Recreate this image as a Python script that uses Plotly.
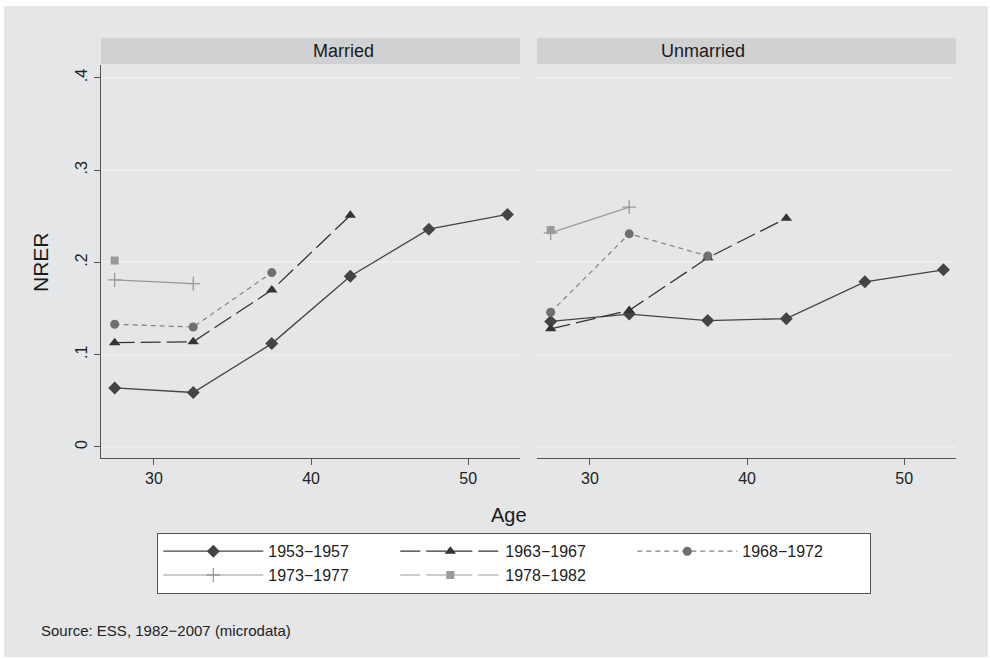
import plotly.graph_objects as go

ages = [27.5, 32.5, 37.5, 42.5, 47.5, 52.5]
cohorts = ["1953\u22121957", "1963\u22121967", "1968\u22121972", "1973\u22121977", "1978\u22121982"]

# Married
m_1953 = [0.064, 0.059, 0.112, 0.185, 0.236, 0.252]
m_1963 = [0.113, 0.114, 0.170, 0.251]
m_1968 = [0.133, 0.130, 0.189]
m_1973 = [0.181, 0.177]
m_1978 = [0.202]

# Unmarried
u_1953 = [0.136, 0.144, 0.137, 0.139, 0.179, 0.192]
u_1963 = [0.128, 0.148, 0.205, 0.248]
u_1968 = [0.146, 0.231, 0.207]
u_1973 = [0.232, 0.260]
u_1978 = [0.235]

yticks = [0, 0.1, 0.2, 0.3, 0.4]
yticklabels = ["0", ".1", ".2", ".3", ".4"]
xticks = [30, 40, 50]

styles = [
    dict(line=dict(color="#444444", width=1.3, dash="solid"),
         marker=dict(symbol="diamond", size=10, color="#444444")),
    dict(line=dict(color="#333333", width=1.3, dash="20px,6px"),
         marker=dict(symbol="triangle-up", size=10, color="#333333")),
    dict(line=dict(color="#808080", width=1.2, dash="5px,4px"),
         marker=dict(symbol="circle", size=9, color="#707070")),
    dict(line=dict(color="#9a9a9a", width=1.2, dash="solid"),
         marker=dict(symbol="cross-thin", size=10, color="#9a9a9a",
                     line=dict(color="#9a9a9a", width=1.3))),
    dict(line=dict(color="#9a9a9a", width=1.2, dash="20px,6px"),
         marker=dict(symbol="square", size=8, color="#9a9a9a")),
]

married = [m_1953, m_1963, m_1968, m_1973, m_1978]
unmarried = [u_1953, u_1963, u_1968, u_1973, u_1978]

fig = go.Figure()
for i, (name, vals) in enumerate(zip(cohorts, married)):
    fig.add_trace(go.Scatter(x=ages[:len(vals)], y=vals, mode="lines+markers",
                             name=name, legendgroup=name, showlegend=True,
                             xaxis="x", yaxis="y", **styles[i]))
for i, (name, vals) in enumerate(zip(cohorts, unmarried)):
    fig.add_trace(go.Scatter(x=ages[:len(vals)], y=vals, mode="lines+markers",
                             name=name, legendgroup=name, showlegend=False,
                             xaxis="x2", yaxis="y2", **styles[i]))

W, H = 990, 659
ml, mr, mt, mb = 101, 34, 65, 201
pw = W - ml - mr
ph = H - mt - mb
d1 = (520 - ml) / pw
d2 = (537 - ml) / pw

xcommon = dict(range=[26.63, 53.3], tickvals=xticks, showgrid=False, zeroline=False,
               showline=True, linecolor="#555555", linewidth=1.3, ticks="outside",
               ticklen=6, tickcolor="#555555", tickfont=dict(size=16, color="#222222"))
ycommon = dict(range=[-0.012, 0.414], tickvals=yticks, showgrid=True,
               gridcolor="#ececec", gridwidth=2, zeroline=False)

fig.update_layout(
    width=W, height=H,
    margin=dict(l=ml, r=mr, t=mt, b=mb),
    paper_bgcolor="white", plot_bgcolor="white",
    font=dict(family="Liberation Sans, Arial, sans-serif", color="#222222"),
    xaxis=dict(domain=[0, d1], anchor="y", **xcommon),
    xaxis2=dict(domain=[d2, 1], anchor="y2", **xcommon),
    yaxis=dict(domain=[0, 1], anchor="x", ticktext=yticklabels, showline=True,
               linecolor="#555555", linewidth=1.3, ticks="outside", ticklen=6,
               tickcolor="#555555", tickangle=-90,
               tickfont=dict(size=16, color="#222222"), **ycommon),
    yaxis2=dict(domain=[0, 1], anchor="x2", matches="y", showticklabels=False,
                showline=False, ticks="", **ycommon),
    showlegend=True,
    legend=dict(orientation="h", x=(157 - ml) / pw, xanchor="left",
                y=-75 / ph, yanchor="top", bgcolor="white",
                bordercolor="#555555", borderwidth=1.3,
                itemwidth=100, entrywidth=122, entrywidthmode="pixels",
                font=dict(size=16, color="#222222"),
                traceorder="normal", itemclick=False),
)

# gray background frame and strips
shapes = [
    dict(type="rect", xref="paper", yref="paper",
         x0=(4 - ml) / pw, x1=(988 - ml) / pw, y0=-(657 - mt - ph) / ph, y1=1 + (mt - 6) / ph,
         fillcolor="#e5e6e8", line=dict(width=0), layer="below"),
    dict(type="rect", xref="paper", yref="paper", x0=0, x1=d1,
         y0=1 + 1 / ph, y1=1 + 27 / ph, fillcolor="#d0d1d3", line=dict(width=0)),
    dict(type="rect", xref="paper", yref="paper", x0=d2, x1=1,
         y0=1 + 1 / ph, y1=1 + 27 / ph, fillcolor="#d0d1d3", line=dict(width=0)),
]
fig.update_layout(shapes=shapes)

annotations = [
    dict(text="Married", xref="paper", yref="paper", x=d1 / 2, y=1 + 14 / ph,
         showarrow=False, font=dict(size=18, color="#1a1a1a"), yanchor="middle"),
    dict(text="Unmarried", xref="paper", yref="paper", x=(d2 + 1) / 2, y=1 + 14 / ph,
         showarrow=False, font=dict(size=18, color="#1a1a1a"), yanchor="middle"),
    dict(text="Age", xref="paper", yref="paper", x=(509 - ml) / pw, y=-(515 - mt - ph) / ph,
         showarrow=False, font=dict(size=20, color="#1a1a1a"), yanchor="middle"),
    dict(text="NRER", xref="paper", yref="paper", x=(40 - ml) / pw, y=(mt + ph - 262) / ph,
         showarrow=False, textangle=-90, font=dict(size=21, color="#1a1a1a"),
         xanchor="center", yanchor="middle"),
    dict(text="Source: ESS, 1982\u22122007 (microdata)", xref="paper", yref="paper",
         x=(39 - ml) / pw, y=-(630 - mt - ph) / ph, xanchor="left", yanchor="middle",
         showarrow=False, font=dict(size=15, color="#222222")),
]
fig.update_layout(annotations=annotations)

fig.write_html("out.html")
